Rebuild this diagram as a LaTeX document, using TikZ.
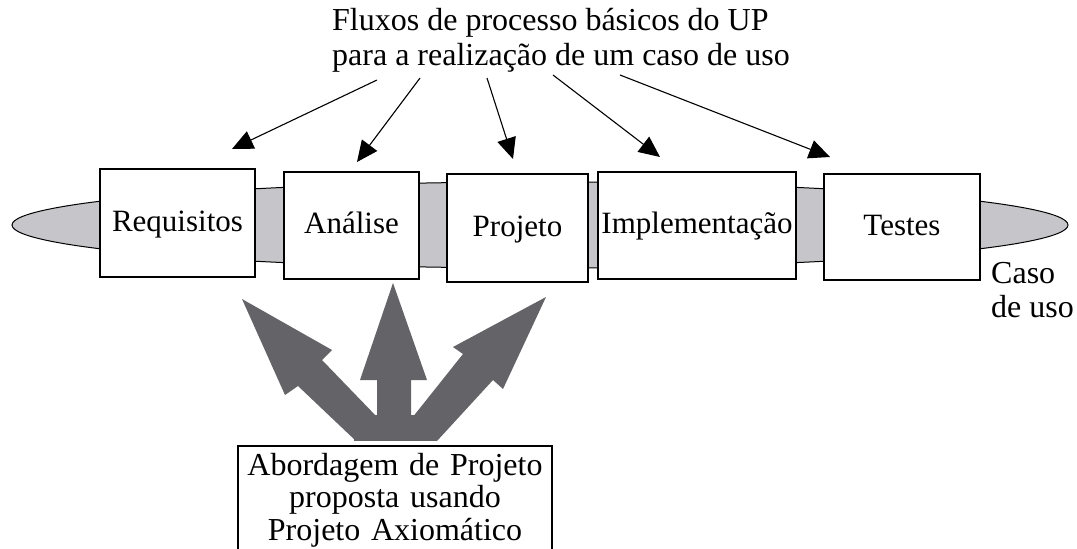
\documentclass[tikz,border=0pt]{standalone}
\usepackage{fontspec}
\setmainfont{Liberation Serif}
\usetikzlibrary{arrows.meta}
\definecolor{bandgray}{RGB}{198,198,202}
\definecolor{arrowgray}{RGB}{100,100,104}
\begin{document}
\begin{tikzpicture}[x=1pt,y=-1pt,
  txt/.style={inner sep=0pt, font=\fontsize{32}{34}\selectfont},
  stagebox/.style={txt, font=\fontsize{31}{34}\selectfont, draw=black, fill=white, line width=1.3pt, text height=22pt, text depth=6pt},
  flow/.style={line width=1.1pt, -{Triangle[length=21pt,width=19pt]}},
  bigarrow/.style={fill=arrowgray, draw=none}]
\useasboundingbox (0,0) rectangle (1077,549);
\fill[white] (0,0) rectangle (1077,549);

% use-case band
\draw[fill=bandgray, line width=1pt] (540,225) ellipse [x radius=528pt, y radius=43pt];

% stages
\node[stagebox, minimum width=155pt, minimum height=108pt] (req) at (177.5,223) {Requisitos};
\node[stagebox, minimum width=135pt, minimum height=107pt] (ana) at (351.5,225.5) {Análise};
\node[stagebox, minimum width=141pt, minimum height=108pt] (proj) at (517.5,228) {Projeto};
\node[stagebox, minimum width=198pt, minimum height=107pt] (impl) at (697,225.5) {Implementação};
\node[stagebox, minimum width=156pt, minimum height=106pt] (test) at (902,227) {Testes};

% title
\node[txt, align=left, anchor=north west, font=\fontsize{32}{35}\selectfont] (title) at (332,8) {Fluxos de processo básicos do UP\\para a realização de um caso de uso};

\coordinate (s1) at (377,80);  \coordinate (e1) at (232,149);
\coordinate (s2) at (420,78);  \coordinate (e2) at (357,162);
\coordinate (s3) at (487,78);  \coordinate (e3) at (513,159);
\coordinate (s4) at (553,75);  \coordinate (e4) at (660,157);
\coordinate (s5) at (620,75);  \coordinate (e5) at (830,157);
\draw[flow] (s1) -- (e1);
\draw[flow] (s2) -- (e2);
\draw[flow] (s3) -- (e3);
\draw[flow] (s4) -- (e4);
\draw[flow] (s5) -- (e5);

% caso de uso label
\node[txt, align=left, anchor=north west] (caso) at (991,262) {Caso\\de uso};

% big gray arrows
\fill[bigarrow] (354,415) rectangle (437,441);
\fill[bigarrow] (393,283) -- (427,380) -- (411,380) -- (411,418) -- (377,418) -- (377,380) -- (360,380) -- cycle;
\fill[bigarrow] (242,299) -- (332,350) -- (322,360) -- (378,418) -- (356,441) -- (298,386) -- (285,395) -- cycle;
\fill[bigarrow] (546,297) -- (503,389) -- (493,380) -- (437,441) -- (412,418) -- (463,354) -- (453,347) -- cycle;

% approach box
\node[txt, align=center, text width=314pt, font=\fontsize{32}{32.5}\selectfont] (approach) at (395,500) {Abordagem de Projeto\\proposta usando\\Projeto Axiomático};
\begin{scope}
\clip (0,0) rectangle (1077,549);
\draw[line width=1.3pt] (238,560) |- (552,446) -- (552,560);
\end{scope}
\end{tikzpicture}
\end{document}
